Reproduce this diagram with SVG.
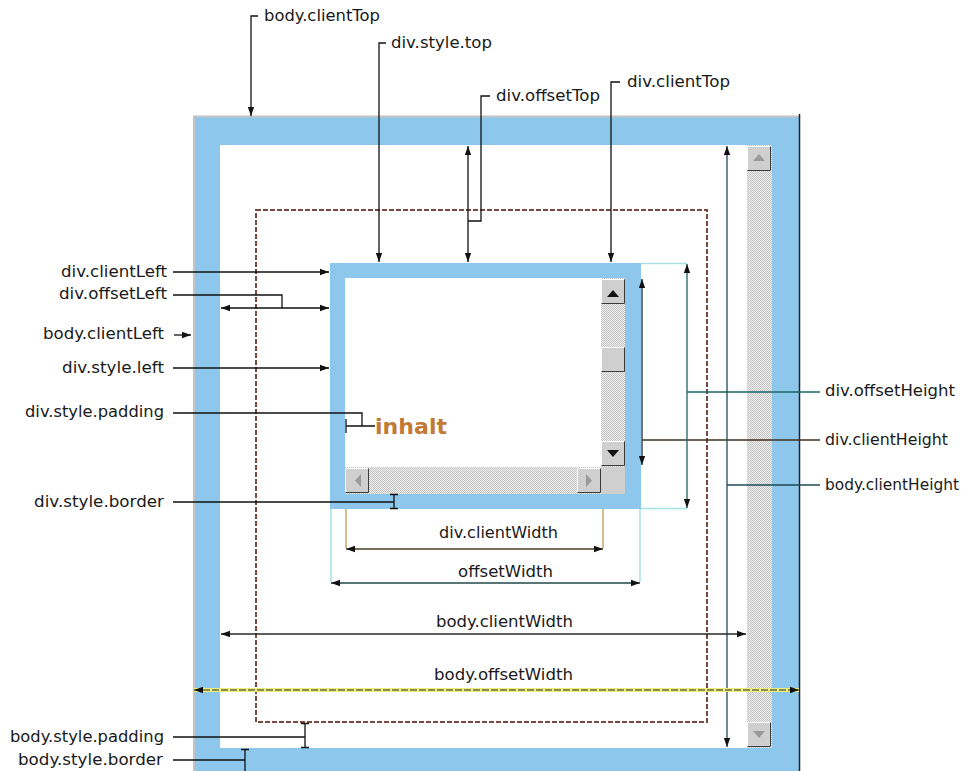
<svg xmlns="http://www.w3.org/2000/svg" width="962" height="771" viewBox="0 0 962 771">
<defs>
<style>
.lbl{font-family:"DejaVu Sans","Liberation Sans",sans-serif;font-size:15px;fill:#1a1a1a}
.ln{fill:none;stroke:#111;stroke-width:1.3}
.blue{fill:#8ec7ec}
.trk{fill:url(#hatch)}
.ext-c{fill:none;stroke:#a6e2e2;stroke-width:1.5}
.ext-t{fill:none;stroke:#c8a868;stroke-width:1.5}
.tri{fill:#111}
.trig{fill:#9a9a9a}
</style>
<pattern id="hatch" width="2" height="2" patternUnits="userSpaceOnUse"><rect width="2" height="2" fill="#eeeeee"/><rect width="1" height="1" fill="#c4c4c4"/><rect x="1" y="1" width="1" height="1" fill="#c4c4c4"/></pattern>
<marker id="ah" viewBox="0 0 10 10" refX="10" refY="5" markerWidth="9" markerHeight="9" markerUnits="userSpaceOnUse" orient="auto-start-reverse"><path d="M0,1.5 L10,5 L0,8.5 z" fill="#111"/></marker>
<g id="btn"><rect width="24" height="25" fill="#cfcfcf"/><path d="M0.5,24.5 V0.5 H23.5" fill="none" stroke="#ffffff"/><path d="M0.5,24.5 H23.5 V0.5" fill="none" stroke="#3a3a3a"/></g>
</defs>
<rect width="962" height="771" fill="#ffffff"/>

<g id="body-box">
<rect x="193" y="116" width="607" height="660" class="blue"/>
<path d="M194,771 V116.5 H799" fill="none" stroke="#c4c4c4" stroke-width="2"/>
<line x1="799.5" y1="114" x2="799.5" y2="771" stroke="#222" stroke-width="1.5"/>
<rect x="220" y="145" width="527" height="603" fill="#ffffff"/>
<rect x="747" y="145" width="25" height="603" class="trk"/>
<use href="#btn" x="747" y="146"/>
<path d="M753,161 L759,154 L765,161 z" class="trig"/>
<use href="#btn" x="747" y="722"/>
<path d="M753,731 L765,731 L759,738 z" class="trig"/>
</g>

<g id="div-margin">
<rect x="256" y="210" width="451" height="512" fill="none" stroke="#7a4a40" stroke-width="2" stroke-dasharray="5 2"/>
</g>

<g id="div-box">
<rect x="330" y="263" width="311" height="246" class="blue"/>
<rect x="345" y="278" width="256" height="189" fill="#ffffff"/>
<rect x="601" y="278" width="24" height="189" class="trk"/>
<rect x="345" y="467" width="256" height="27" class="trk"/>
<rect x="601" y="467" width="24" height="27" fill="#cfcfcf"/>
<use href="#btn" x="601" y="279"/>
<path d="M607,297 L613,290 L619,297 z" class="tri"/>
<use href="#btn" x="601" y="347"/>
<use href="#btn" x="601" y="441"/>
<path d="M607,450 L619,450 L613,457 z" class="tri"/>
<use href="#btn" x="345" y="468"/>
<path d="M361,474 L361,487 L355,480.5 z" class="trig"/>
<use href="#btn" x="577" y="468"/>
<path d="M586,474 L586,487 L592,480.5 z" class="trig"/>
</g>

<g id="inhalt">
<text x="375" y="434" font-family="DejaVu Sans, sans-serif" font-weight="bold" font-size="21" fill="#c27a35" textLength="72" lengthAdjust="spacingAndGlyphs">inhalt</text>
</g>

<g id="connectors">
<path class="ln" d="M258,16 H251 V116" marker-end="url(#ah)"/>
<path class="ln" d="M386,43 H379 V262" marker-end="url(#ah)"/>
<path class="ln" d="M490,96 H481 V221 H468"/>
<line class="ln" x1="468" y1="146" x2="468" y2="262" marker-start="url(#ah)" marker-end="url(#ah)"/>
<path class="ln" d="M620,82 H611 V262" marker-end="url(#ah)"/>

<path class="ln" d="M173,272 H329" marker-end="url(#ah)"/>
<path class="ln" d="M173,295 H282 V308"/>
<line class="ln" x1="221" y1="308" x2="329" y2="308" marker-start="url(#ah)" marker-end="url(#ah)"/>
<path class="ln" d="M174,335 H191" marker-end="url(#ah)"/>
<path class="ln" d="M173,368 H329" marker-end="url(#ah)"/>
<path class="ln" d="M173,413 H362 V426 M346,426 H375 M346,419 V433"/>
<path class="ln" d="M173,502 H394 M394,494 V509 M390,494.5 H398 M390,508.5 H398"/>
<path class="ln" d="M173,737 H305 M305,723 V748 M301,723.5 H309 M301,747.5 H309"/>
<path class="ln" d="M173,760 H245 M245,749 V771 M241,749.5 H249"/>

<path class="ext-c" d="M641,263.5 H687 M641,508.5 H687"/>
<line x1="642" y1="279" x2="642" y2="465" stroke="#2a2a2a" stroke-width="1.3" marker-start="url(#ah)" marker-end="url(#ah)"/>
<path d="M642,440 H820" fill="none" stroke="#3a3020" stroke-width="1.3"/>
<line x1="687" y1="264" x2="687" y2="508" stroke="#1e6464" stroke-width="1.3" marker-start="url(#ah)" marker-end="url(#ah)"/>
<path d="M687,392 H820" fill="none" stroke="#1e6464" stroke-width="1.3"/>
<line x1="727" y1="146" x2="727" y2="747" stroke="#1e4a55" stroke-width="1.3" marker-start="url(#ah)" marker-end="url(#ah)"/>
<path d="M727,485 H820" fill="none" stroke="#1e4a55" stroke-width="1.3"/>

<path class="ext-t" d="M346,509 V548 M603,509 V548"/>
<line x1="346" y1="549" x2="603" y2="549" stroke="#4a4020" stroke-width="1.3" marker-start="url(#ah)" marker-end="url(#ah)"/>
<path class="ext-c" d="M331,509 V582 M640,509 V582"/>
<line x1="331" y1="583" x2="640" y2="583" stroke="#204848" stroke-width="1.3" marker-start="url(#ah)" marker-end="url(#ah)"/>
<line x1="221" y1="634" x2="746" y2="634" stroke="#2a2a2a" stroke-width="1.3" marker-start="url(#ah)" marker-end="url(#ah)"/>
<line x1="194" y1="690" x2="799" y2="690" stroke="#ecf07a" stroke-width="4"/>
<line x1="194" y1="690" x2="799" y2="690" stroke="#2a2a2a" stroke-width="1.2" stroke-dasharray="7 2" marker-start="url(#ah)" marker-end="url(#ah)"/>
</g>

<g id="lbl-body-clientTop"><text class="lbl" x="264" y="21" textLength="116" lengthAdjust="spacingAndGlyphs">body.clientTop</text></g>
<g id="lbl-div-style-top"><text class="lbl" x="391" y="48" textLength="101" lengthAdjust="spacingAndGlyphs">div.style.top</text></g>
<g id="lbl-div-offsetTop"><text class="lbl" x="496" y="101" textLength="104" lengthAdjust="spacingAndGlyphs">div.offsetTop</text></g>
<g id="lbl-div-clientTop"><text class="lbl" x="627" y="87" textLength="103" lengthAdjust="spacingAndGlyphs">div.clientTop</text></g>

<g id="lbl-div-clientLeft"><text class="lbl" x="61" y="277" textLength="106" lengthAdjust="spacingAndGlyphs">div.clientLeft</text></g>
<g id="lbl-div-offsetLeft"><text class="lbl" x="59" y="299" textLength="108" lengthAdjust="spacingAndGlyphs">div.offsetLeft</text></g>
<g id="lbl-body-clientLeft"><text class="lbl" x="43" y="339" textLength="121" lengthAdjust="spacingAndGlyphs">body.clientLeft</text></g>
<g id="lbl-div-style-left"><text class="lbl" x="62" y="373" textLength="102" lengthAdjust="spacingAndGlyphs">div.style.left</text></g>
<g id="lbl-div-style-padding"><text class="lbl" x="25" y="417" textLength="139" lengthAdjust="spacingAndGlyphs">div.style.padding</text></g>
<g id="lbl-div-style-border"><text class="lbl" x="34" y="507" textLength="130" lengthAdjust="spacingAndGlyphs">div.style.border</text></g>
<g id="lbl-body-style-padding"><text class="lbl" x="10" y="742" textLength="154" lengthAdjust="spacingAndGlyphs">body.style.padding</text></g>
<g id="lbl-body-style-border"><text class="lbl" x="18" y="765" textLength="145" lengthAdjust="spacingAndGlyphs">body.style.border</text></g>

<g id="lbl-div-offsetHeight"><text class="lbl" x="825" y="396" textLength="130" lengthAdjust="spacingAndGlyphs">div.offsetHeight</text></g>
<g id="lbl-div-clientHeight"><text class="lbl" x="825" y="445" textLength="123" lengthAdjust="spacingAndGlyphs">div.clientHeight</text></g>
<g id="lbl-body-clientHeight"><text class="lbl" x="825" y="490" textLength="134" lengthAdjust="spacingAndGlyphs">body.clientHeight</text></g>

<g id="lbl-div-clientWidth"><text class="lbl" x="439" y="538" textLength="119" lengthAdjust="spacingAndGlyphs">div.clientWidth</text></g>
<g id="lbl-offsetWidth"><text class="lbl" x="458" y="577" textLength="95" lengthAdjust="spacingAndGlyphs">offsetWidth</text></g>
<g id="lbl-body-clientWidth"><text class="lbl" x="436" y="627" textLength="137" lengthAdjust="spacingAndGlyphs">body.clientWidth</text></g>
<g id="lbl-body-offsetWidth"><text class="lbl" x="434" y="680" textLength="139" lengthAdjust="spacingAndGlyphs">body.offsetWidth</text></g>
</svg>
